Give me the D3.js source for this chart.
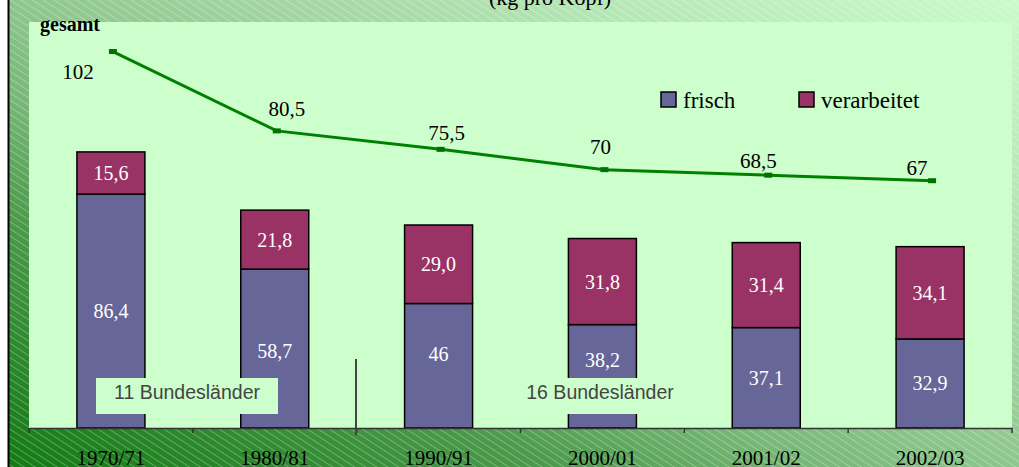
<!DOCTYPE html>
<html><head><meta charset="utf-8">
<script src="https://cdn.jsdelivr.net/npm/d3@7"></script>
<style>html,body{margin:0;padding:0;background:#fff;}svg{display:block;}</style>
</head><body>
<svg id="chart" width="1019" height="467"></svg>
<script>
// ---- data ----
const categories = ["1970/71","1980/81","1990/91","2000/01","2001/02","2002/03"];
const frisch = [86.4, 58.7, 46, 38.2, 37.1, 32.9];
const verarbeitet = [15.6, 21.8, 29.0, 31.8, 31.4, 34.1];
const gesamt = [102, 80.5, 75.5, 70, 68.5, 67];
const seriesNames = ["frisch", "verarbeitet"];
const regionLabels = ["11 Bundesländer", "16 Bundesländer"];
const titleText = "(kg pro Kopf)";
const lineTitle = "gesamt";

// ---- layout ----
const W = 1019, H = 467;
const plot = {x0: 29, x1: 1012, y0: 22, y1: 428};
const colors = {frisch: "#666699", verarbeitet: "#993366", line: "#008000", plot: "#CCFFCC"};
const serif = "'Liberation Serif','Times New Roman',serif";
const sans = "'Liberation Sans',Arial,sans-serif";
// label nudges (px) for manually placed labels in original
const lineLabelNudge = [[-35, 27], [10, -15], [6, -9], [-4, -16], [-10, -7], [-15, -6]];
const frischLabelNudge = [0, 2, -12, -16, 0, 0];

const loc = d3.formatLocale({decimal: ",", thousands: ".", grouping: [3], currency: ["", "€"]});
const fmtG = v => loc.format("~g")(v);
const fmt1 = loc.format(".1f");

const svg = d3.select("#chart");
const defs = svg.append("defs");
const grad = defs.append("linearGradient").attr("id", "bg")
  .attr("x1", 0).attr("y1", 1).attr("x2", 1).attr("y2", 0);
[[0, "#137a13"], [0.12, "#2c882c"], [0.27, "#4c9a4c"], [0.4, "#78b878"], [0.5, "#8ec68e"],
 [0.65, "#a6d8a6"], [0.8, "#b8e8b8"], [1, "#cafbca"]]
  .forEach(([o, c]) => grad.append("stop").attr("offset", o).attr("stop-color", c));
const pat = defs.append("pattern").attr("id", "hatch").attr("patternUnits", "userSpaceOnUse")
  .attr("width", 6).attr("height", 6).attr("patternTransform", "rotate(33)");
pat.append("line").attr("x1", 0).attr("y1", 0.5).attr("x2", 6).attr("y2", 0.5)
  .attr("stroke", "#fff").attr("stroke-opacity", 0.28).attr("stroke-width", 1);

// background
svg.append("rect").attr("x", 9).attr("y", 0).attr("width", W - 9).attr("height", H).attr("fill", "url(#bg)");
svg.append("rect").attr("x", 9).attr("y", 0).attr("width", W - 9).attr("height", H).attr("fill", "url(#hatch)");
svg.append("line").attr("x1", 8.5).attr("x2", 8.5).attr("y1", 0).attr("y2", H)
  .attr("stroke", "#000").attr("stroke-width", 2);

// plot area
svg.append("rect").attr("x", plot.x0).attr("y", plot.y0)
  .attr("width", plot.x1 - plot.x0).attr("height", plot.y1 - plot.y0).attr("fill", colors.plot);

// scales
const x = d3.scaleBand().domain(categories).range([plot.x0, plot.x1]).padding(0);
const yBar = d3.scaleLinear().domain([0, 150]).range([plot.y1, plot.y0]);
const yLine = d3.scaleLinear().domain([0, 110]).range([plot.y1, plot.y0]);
const barW = x.bandwidth() * 0.415;
const cx = c => x(c) + x.bandwidth() / 2;

// title
svg.append("text").attr("x", 550).attr("y", 5).attr("text-anchor", "middle")
  .attr("font-family", serif).attr("font-size", 22).attr("fill", "#000").text(titleText);

// stacked bars
const stackData = categories.map((c, i) => ({cat: c, frisch: frisch[i], verarbeitet: verarbeitet[i]}));
const stacked = d3.stack().keys(seriesNames)(stackData);
const gBars = svg.append("g");
stacked.forEach(layer => {
  gBars.selectAll(null).data(layer).join("rect")
    .attr("x", d => cx(d.data.cat) - barW / 2)
    .attr("y", d => yBar(d[1]))
    .attr("width", barW)
    .attr("height", d => yBar(d[0]) - yBar(d[1]))
    .attr("fill", colors[layer.key])
    .attr("stroke", "#000").attr("stroke-width", 1.5);
});

// axis
const axis = d3.axisBottom(x).tickSize(0).tickFormat("");
const gAxis = svg.append("g").attr("transform", `translate(0,${plot.y1})`).call(axis);
gAxis.select(".domain").attr("stroke", "#333").attr("stroke-width", 1.5);
const boundaries = categories.map(c => x(c)).concat([plot.x1]);
svg.append("g").selectAll("line").data(boundaries).join("line")
  .attr("x1", d => d).attr("x2", d => d).attr("y1", plot.y1).attr("y2", plot.y1 + 5)
  .attr("stroke", "#333").attr("stroke-width", 1.5);
svg.append("g").selectAll("text").data(categories).join("text")
  .attr("x", d => cx(d)).attr("y", 465).attr("text-anchor", "middle")
  .attr("font-family", serif).attr("font-size", 21).attr("fill", "#000").text(d => d);

// region boxes
const regionBoxes = [{cx: 187, label: regionLabels[0]}, {cx: 600, label: regionLabels[1]}];
regionBoxes.forEach(b => {
  svg.append("rect").attr("x", b.cx - 91).attr("y", 378).attr("width", 182).attr("height", 36)
    .attr("fill", colors.plot);
  svg.append("text").attr("x", b.cx).attr("y", 399).attr("text-anchor", "middle")
    .attr("font-family", sans).attr("font-size", 19.5).attr("fill", "#444").text(b.label);
});
// separator
svg.append("line").attr("x1", 356).attr("x2", 356).attr("y1", 359).attr("y2", 435)
  .attr("stroke", "#444").attr("stroke-width", 2);

// bar labels
const gLab = svg.append("g").attr("font-family", serif).attr("font-size", 20).attr("fill", "#fff")
  .attr("text-anchor", "middle").attr("dominant-baseline", "central");
stacked[0].forEach((d, i) => {
  gLab.append("text").attr("x", cx(d.data.cat))
    .attr("y", (yBar(d[0]) + yBar(d[1])) / 2 + frischLabelNudge[i]).text(fmtG(frisch[i]));
});
stacked[1].forEach((d, i) => {
  gLab.append("text").attr("x", cx(d.data.cat))
    .attr("y", (yBar(d[0]) + yBar(d[1])) / 2).text(fmt1(verarbeitet[i]));
});

// line
const lx = (c) => cx(c) + 2;
const line = d3.line().x((d, i) => lx(categories[i])).y(d => yLine(d));
svg.append("path").datum(gesamt).attr("d", line).attr("fill", "none")
  .attr("stroke", colors.line).attr("stroke-width", 3);
svg.append("g").selectAll("rect").data(gesamt).join("rect")
  .attr("x", (d, i) => lx(categories[i]) - 4).attr("y", d => yLine(d) - 2.5)
  .attr("width", 8).attr("height", 5).attr("fill", "#007000");
svg.append("g").selectAll("text").data(gesamt).join("text")
  .attr("x", (d, i) => lx(categories[i]) + lineLabelNudge[i][0])
  .attr("y", (d, i) => yLine(d) + lineLabelNudge[i][1])
  .attr("text-anchor", "middle").attr("font-family", serif).attr("font-size", 21)
  .attr("fill", "#000").text(d => fmtG(d));
svg.append("text").attr("x", 40).attr("y", 31).attr("font-family", serif)
  .attr("font-weight", "bold").attr("font-size", 20).attr("fill", "#000").text(lineTitle);

// legend
const legend = svg.append("g");
const legX = [661, 799];
seriesNames.forEach((s, i) => {
  legend.append("rect").attr("x", legX[i]).attr("y", 92).attr("width", 15).attr("height", 15)
    .attr("fill", colors[s]).attr("stroke", "#000").attr("stroke-width", 1.5);
  legend.append("text").attr("x", legX[i] + 22).attr("y", 108).attr("font-family", serif)
    .attr("font-size", 23).attr("fill", "#000").text(s);
});
</script>
</body></html>
